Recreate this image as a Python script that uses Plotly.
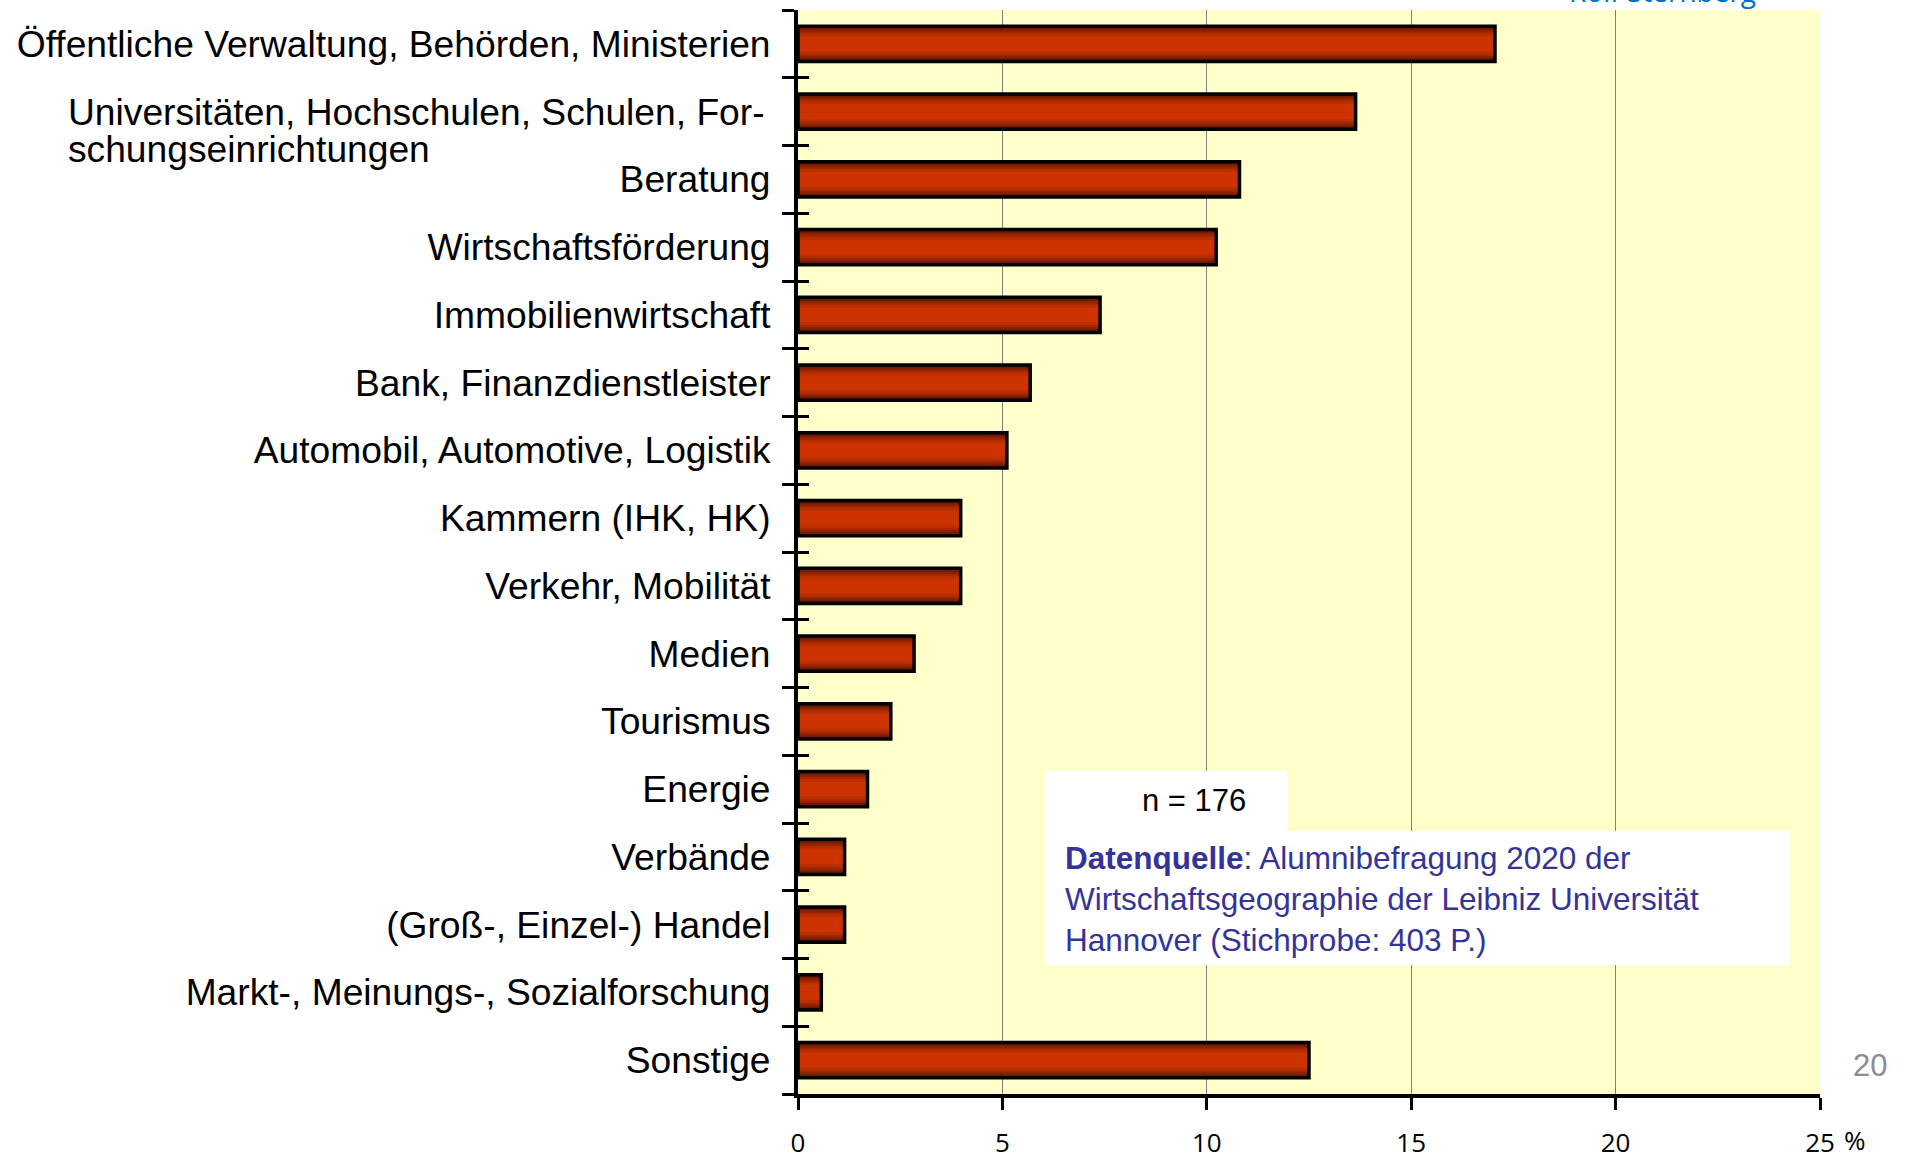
import plotly.graph_objects as go

# ---------------- data ----------------
categories = [
    "Öffentliche Verwaltung, Behörden, Ministerien",
    "Universitäten, Hochschulen, Schulen, For-schungseinrichtungen",
    "Beratung",
    "Wirtschaftsförderung",
    "Immobilienwirtschaft",
    "Bank, Finanzdienstleister",
    "Automobil, Automotive, Logistik",
    "Kammern (IHK, HK)",
    "Verkehr, Mobilität",
    "Medien",
    "Tourismus",
    "Energie",
    "Verbände",
    "(Groß-, Einzel-) Handel",
    "Markt-, Meinungs-, Sozialforschung",
    "Sonstige",
]
values = [17.05, 13.64, 10.80, 10.23, 7.39, 5.68, 5.11, 3.98, 3.98, 2.84, 2.27, 1.70, 1.14, 1.14, 0.57, 12.50]
tick_labels = ["Öffentliche Verwaltung, Behörden, Ministerien", "", "Beratung", "Wirtschaftsförderung",
               "Immobilienwirtschaft", "Bank, Finanzdienstleister", "Automobil, Automotive, Logistik",
               "Kammern (IHK, HK)", "Verkehr, Mobilität", "Medien", "Tourismus", "Energie", "Verbände",
               "(Groß-, Einzel-) Handel", "Markt-, Meinungs-, Sozialforschung", "Sonstige"]
wrapped_label = ["Universitäten, Hochschulen, Schulen, For-", "schungseinrichtungen"]
x_ticks = [0, 5, 10, 15, 20, 25]
x_ticktext = ["0", "5", "10", "15", "20", "25"]
boundaries = [i - 0.5 for i in range(len(categories) + 1)]

# ---------------- figure ----------------
W, H = 1906, 1157
L, R, T, B = 798, 86, 10, 63
PW, PH = W - L - R, H - T - B
LABEL_FONT = "Liberation Sans, Arial, sans-serif"
LABEL_SIZE = 37.2

def px_x(p):
    return (p - L) / PW

def px_y(p):
    return (H - B - p) / PH

fig = go.Figure()

# gradient-like bar shading with overlaid bars (dark edges, bright centre)
bar_w = 0.52
layers = [
    (0.52, "#561400"),
    (0.47, "#701b00"),
    (0.42, "#8a2200"),
    (0.36, "#a42900"),
    (0.30, "#ba2f00"),
    (0.22, "#cc3300"),
]
for w, col in layers:
    fig.add_trace(go.Bar(
        y=categories, x=values, orientation="h", width=w,
        marker=dict(color=col, line=dict(width=0)),
        showlegend=False, hoverinfo="skip",
    ))
fig.add_trace(go.Bar(
    y=categories, x=values, orientation="h", width=bar_w,
    marker=dict(color="rgba(0,0,0,0)", line=dict(color="black", width=3.5)),
    showlegend=False, hoverinfo="x+y",
))
# helper trace for the inward y ticks axis
fig.add_trace(go.Scatter(x=[0], y=[0], yaxis="y2", mode="markers",
                         marker=dict(opacity=0), showlegend=False, hoverinfo="skip"))

fig.update_layout(
    width=W, height=H,
    margin=dict(l=L, r=R, t=T, b=B, autoexpand=False),
    paper_bgcolor="white",
    plot_bgcolor="#FFFFCC",
    barmode="overlay",
    font=dict(family=LABEL_FONT, color="black"),
    xaxis=dict(
        range=[0, 25], tickvals=x_ticks, ticktext=x_ticktext,
        showgrid=True, gridcolor="#808080", gridwidth=1,
        zeroline=False, showline=True, linecolor="black", linewidth=4,
        ticks="outside", ticklen=12, tickwidth=3, tickcolor="black",
        tickfont=dict(family="Open Sans, sans-serif", size=26, color="black"),
        ticklabelstandoff=11,
    ),
    yaxis=dict(
        type="category", categoryorder="array", categoryarray=categories,
        range=[len(categories) - 0.5, -0.5],
        tickvals=categories, ticktext=tick_labels,
        tickson="boundaries", ticks="outside", ticklen=12, tickwidth=3, tickcolor="black",
        showline=True, linecolor="black", linewidth=4, showgrid=False, zeroline=False,
        tickfont=dict(family=LABEL_FONT, size=LABEL_SIZE, color="black"),
        ticklabelstandoff=16,
    ),
    yaxis2=dict(
        overlaying="y", anchor="x", side="left",
        range=[len(categories) - 0.5, -0.5],
        tickvals=boundaries, showticklabels=False,
        ticks="inside", ticklen=11, tickwidth=3, tickcolor="black",
        showgrid=False, zeroline=False, showline=False,
    ),
)

# white info boxes
fig.add_shape(type="rect", xref="paper", yref="paper",
              x0=px_x(1045), x1=px_x(1287), y0=px_y(832), y1=px_y(771),
              fillcolor="white", line=dict(width=0), layer="above")
fig.add_shape(type="rect", xref="paper", yref="paper",
              x0=px_x(1045), x1=px_x(1790), y0=px_y(965), y1=px_y(831),
              fillcolor="white", line=dict(width=0), layer="above")

ann = []
# wrapped category label (left-aligned second line)
ann.append(dict(xref="paper", yref="y", x=0, y=categories[1], xanchor="right", yanchor="middle",
                xshift=-31, text=wrapped_label[0], showarrow=False,
                font=dict(size=LABEL_SIZE, color="black", family=LABEL_FONT)))
ann.append(dict(xref="paper", yref="y", x=px_x(66), y=categories[1], xanchor="left", yanchor="middle",
                yshift=-37, text=wrapped_label[1], showarrow=False,
                font=dict(size=LABEL_SIZE, color="black", family=LABEL_FONT)))
# n = 176
ann.append(dict(xref="paper", yref="paper", x=px_x(1194), y=px_y(801), xanchor="center", yanchor="middle",
                text="n = 176", showarrow=False,
                font=dict(size=31, color="black", family=LABEL_FONT)))
# data source
ann.append(dict(xref="paper", yref="paper", x=px_x(1063), y=px_y(899), xanchor="left", yanchor="middle",
                align="left", showarrow=False,
                text="<b>Datenquelle</b>: Alumnibefragung 2020 der<br>Wirtschaftsgeographie der Leibniz Universität<br>Hannover (Stichprobe: 403 P.)",
                font=dict(size=31.5, color="#333399", family=LABEL_FONT)))
# percent sign after last tick label
ann.append(dict(xref="x", yref="paper", x=25, y=px_y(1140), xanchor="left", yanchor="middle",
                xshift=22, text="%", showarrow=False,
                font=dict(size=26, color="black", family="Open Sans, sans-serif")))
# page number
ann.append(dict(xref="paper", yref="paper", x=px_x(1870), y=px_y(1065), xanchor="center", yanchor="middle",
                text="20", showarrow=False,
                font=dict(size=31, color="#8c8c8c", family=LABEL_FONT)))
# author (cut off at the top)
ann.append(dict(xref="paper", yref="paper", x=px_x(1662), y=1, xanchor="center", yanchor="bottom",
                yshift=-2, text="Rolf Sternberg", showarrow=False,
                font=dict(size=28, color="#0070C0", family="Open Sans, sans-serif")))
fig.update_layout(annotations=ann)

fig.write_html("out.html", config={"displayModeBar": False},
               post_script="document.body.style.margin='0px';")
